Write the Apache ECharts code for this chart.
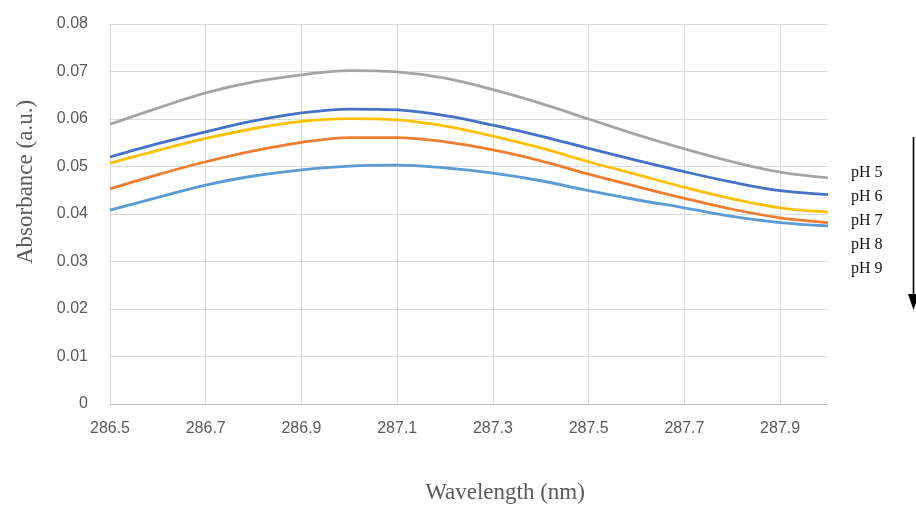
<!DOCTYPE html>
<html>
<head>
<meta charset="utf-8">
<script src="https://cdn.jsdelivr.net/npm/echarts@6/dist/echarts.min.js"></script>
<style>
html,body{margin:0;padding:0;background:#fff;}
#chart{width:916px;height:507px;}
</style>
</head>
<body>
<div id="chart"></div>
<script>
var wavelengths = [286.5, 286.6, 286.7, 286.8, 286.9, 287.0, 287.1, 287.2, 287.3, 287.4, 287.5, 287.6, 287.7, 287.8, 287.9, 288.0];
var seriesNames = ['pH 5', 'pH 6', 'pH 7', 'pH 8', 'pH 9'];
var pH5 = [0.0589, 0.0623, 0.0655, 0.0678, 0.0693, 0.0702, 0.0699, 0.0686, 0.0662, 0.0633, 0.0600, 0.0567, 0.0537, 0.0510, 0.0488, 0.0476];
var pH6 = [0.0520, 0.0548, 0.0573, 0.0596, 0.0613, 0.0621, 0.0619, 0.0607, 0.0587, 0.0564, 0.0538, 0.0513, 0.0489, 0.0467, 0.0449, 0.0441];
var pH7 = [0.0507, 0.0534, 0.0559, 0.0580, 0.0595, 0.0601, 0.0598, 0.0585, 0.0564, 0.0539, 0.0510, 0.0483, 0.0456, 0.0432, 0.0413, 0.0404];
var pH8 = [0.0453, 0.0483, 0.0510, 0.0533, 0.0551, 0.0561, 0.0561, 0.0552, 0.0535, 0.0512, 0.0484, 0.0458, 0.0433, 0.0410, 0.0392, 0.0382];
var pH9 = [0.0408, 0.0435, 0.0461, 0.0480, 0.0493, 0.0501, 0.0503, 0.0497, 0.0486, 0.0470, 0.0449, 0.0430, 0.0413, 0.0395, 0.0382, 0.0375];
var colors = ['#A5A5A5', '#4472C4', '#FFC000', '#ED7D31', '#5B9BD5'];
var allSeries = [pH5, pH6, pH7, pH8, pH9];
var xTitle = 'Wavelength (nm)';
var yTitle = 'Absorbance (a.u.)';

function pairs(ys) {
  return wavelengths.map(function (x, i) { return [x, ys[i]]; });
}

var chart = echarts.init(document.getElementById('chart'), null, {renderer: 'canvas'});

var series = allSeries.map(function (ys, i) {
  return {
    name: seriesNames[i],
    type: 'line',
    data: pairs(ys),
    smooth: 0.35,
    showSymbol: false,
    symbol: 'none',
    lineStyle: {color: colors[i], width: 2.8},
    itemStyle: {color: colors[i]},
    z: 10 - i
  };
});

var legendGraphics = seriesNames.map(function (n, i) {
  return {
    type: 'text',
    left: 851,
    top: 165 + i * 24,
    style: {text: n, fill: '#111', font: '16px "Liberation Serif", "Times New Roman", serif'}
  };
});

chart.setOption({
  animation: false,
  backgroundColor: '#fff',
  grid: {left: 110, right: 88, top: 24, bottom: 103, containLabel: false},
  xAxis: {
    type: 'value',
    min: 286.5,
    max: 288.0,
    interval: 0.2,
    axisLine: {show: true, lineStyle: {color: '#BFBFBF', width: 1}},
    axisTick: {show: false},
    axisLabel: {
      showMaxLabel: false,
      margin: 17,
      color: '#595959',
      fontSize: 16,
      fontFamily: '"Liberation Sans", Arial, sans-serif',
      formatter: function (v) { return v.toFixed(1); }
    },
    splitLine: {show: true, showMaxLine: false, lineStyle: {color: '#D9D9D9', width: 1}}
  },
  yAxis: {
    type: 'value',
    min: 0,
    max: 0.08,
    interval: 0.01,
    axisLine: {show: false},
    axisTick: {show: false},
    axisLabel: {
      margin: 22,
      color: '#595959',
      fontSize: 16,
      fontFamily: '"Liberation Sans", Arial, sans-serif',
      formatter: function (v) { return v === 0 ? '0' : v.toFixed(2); }
    },
    splitLine: {show: true, lineStyle: {color: '#D9D9D9', width: 1}}
  },
  series: series,
  graphic: [
    {
      type: 'text',
      x: 26,
      y: 182,
      rotation: Math.PI / 2,
      style: {
        text: yTitle,
        fill: '#595959',
        font: '23px "Liberation Serif", "Times New Roman", serif',
        align: 'center',
        verticalAlign: 'middle'
      }
    },
    {
      type: 'text',
      x: 505,
      y: 493,
      style: {
        text: xTitle,
        fill: '#595959',
        font: '23px "Liberation Serif", "Times New Roman", serif',
        align: 'center',
        verticalAlign: 'middle'
      }
    },
    {
      type: 'line',
      shape: {x1: 913.5, y1: 137, x2: 913.5, y2: 298},
      style: {stroke: '#000', lineWidth: 1.6}
    },
    {
      type: 'polygon',
      shape: {points: [[908, 294], [919, 294], [913.5, 310]]},
      style: {fill: '#000'}
    }
  ].concat(legendGraphics)
});
</script>
</body>
</html>
